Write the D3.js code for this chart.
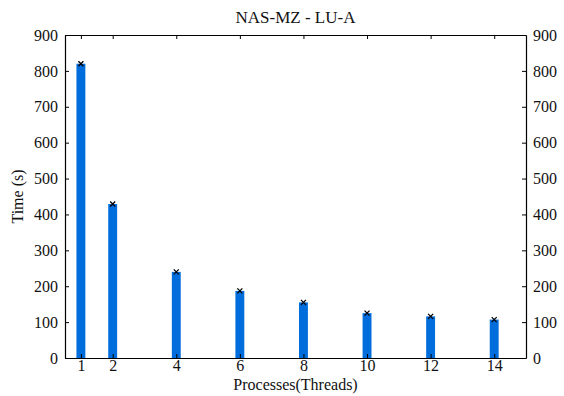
<!DOCTYPE html>
<html>
<head>
<meta charset="utf-8">
<script src="https://cdn.jsdelivr.net/npm/d3@7"></script>
<style>
  body { margin: 0; background: white; }
  text { font-family: "Liberation Serif", "DejaVu Serif", serif; fill: #111; }
</style>
</head>
<body>
<div id="chart"></div>
<script>
// NAS-MZ LU-A timings
var threads = [1, 2, 4, 6, 8, 10, 12, 14];
var times = [820, 429, 240, 187, 155, 125, 116, 107];
var xTicks = [1, 2, 4, 6, 8, 10, 12, 14];
var yTicks = [0, 100, 200, 300, 400, 500, 600, 700, 800, 900];

var W = 564, H = 396;
var margin = {left: 65, right: 38, top: 35, bottom: 38};
var serif = '"Liberation Serif", "Times New Roman", serif';

var svg = d3.select("#chart").append("svg")
    .attr("width", W)
    .attr("height", H);

var x = d3.scaleLinear().domain([0.5, 15]).range([margin.left, W - margin.right]);
var y = d3.scaleLinear().domain([0, 900]).range([H - margin.bottom, margin.top]);

// bars
var barW = x(1.14) - x(0.86);
svg.selectAll("rect.bar")
    .data(threads)
    .enter().append("rect")
    .attr("class", "bar")
    .attr("x", function(d) { return x(d) - barW / 2; })
    .attr("y", function(d, i) { return y(times[i]); })
    .attr("width", barW)
    .attr("height", function(d, i) { return y(0) - y(times[i]); })
    .attr("fill", "#006ddc");

// small x markers at top of each bar
var m = 2.5;
svg.selectAll("path.mark")
    .data(threads)
    .enter().append("path")
    .attr("class", "mark")
    .attr("d", function(d, i) {
        var cx = x(d), cy = y(times[i]);
        return "M" + (cx - m) + "," + (cy - m) + "L" + (cx + m) + "," + (cy + m) +
               "M" + (cx - m) + "," + (cy + m) + "L" + (cx + m) + "," + (cy - m);
    })
    .attr("stroke", "#000")
    .attr("stroke-width", 1.3);

// axes, ticks drawn inward
var axisB = d3.axisBottom(x).tickValues(xTicks).tickSizeInner(-4).tickSizeOuter(0).tickPadding(2);
var axisT = d3.axisTop(x).tickValues(xTicks).tickSizeInner(-4).tickSizeOuter(0).tickFormat("");
var axisL = d3.axisLeft(y).tickValues(yTicks).tickSizeInner(-4).tickSizeOuter(0).tickPadding(7);
var axisR = d3.axisRight(y).tickValues(yTicks).tickSizeInner(-4).tickSizeOuter(0).tickPadding(7);

function styleAxis(g) {
    g.attr("font-family", serif).attr("font-size", 16);
    g.select(".domain").attr("stroke", "#000").attr("stroke-width", 1.2);
    g.selectAll(".tick line").attr("stroke", "#000");
    g.selectAll(".tick text").attr("fill", "#111");
}

svg.append("g").attr("transform", "translate(0," + y(0) + ")").call(axisB).call(styleAxis);
svg.append("g").attr("transform", "translate(0," + y(900) + ")").call(axisT).call(styleAxis);
svg.append("g").attr("transform", "translate(" + x(0.5) + ",0)").call(axisL).call(styleAxis);
svg.append("g").attr("transform", "translate(" + x(15) + ",0)").call(axisR).call(styleAxis);

// title and axis labels
svg.append("text")
    .attr("x", (x(0.5) + x(15)) / 2)
    .attr("y", 23)
    .attr("text-anchor", "middle")
    .attr("font-family", serif)
    .attr("font-size", 17)
    .text("NAS-MZ - LU-A");

svg.append("text")
    .attr("x", (x(0.5) + x(15)) / 2)
    .attr("y", 390)
    .attr("text-anchor", "middle")
    .attr("font-family", serif)
    .attr("font-size", 16)
    .text("Processes(Threads)");

svg.append("text")
    .attr("transform", "translate(23," + ((y(0) + y(900)) / 2) + ") rotate(-90)")
    .attr("text-anchor", "middle")
    .attr("font-family", serif)
    .attr("font-size", 16)
    .text("Time (s)");
</script>
</body>
</html>
